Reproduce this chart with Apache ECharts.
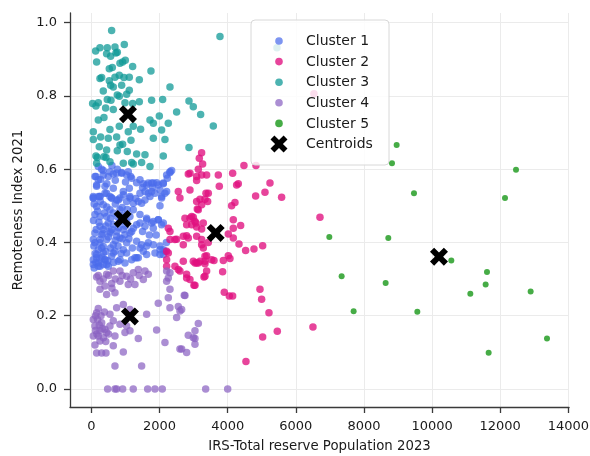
<!DOCTYPE html>
<html><head><meta charset="utf-8">
<script src="https://cdn.jsdelivr.net/npm/echarts@6/dist/echarts.min.js"></script>
<style>html,body{margin:0;padding:0;background:#fff}#c{width:590px;height:456px}</style>
</head><body><div id="c"></div>
<script>
const seriesNames = ['Cluster 1','Cluster 2','Cluster 3','Cluster 4','Cluster 5','Centroids'];
const xTicks = [0,2000,4000,6000,8000,10000,12000,14000];
const yTicks = [0,0.2,0.4,0.6,0.8,1.0];
const xTitle = 'IRS-Total reserve Population 2023';
const yTitle = 'Remoteness Index 2021';

const cluster1 = [
[201,0.607],[347,0.596],[132,0.580],[269,0.572],[494,0.580],[641,0.587],[758,0.600],[886,0.591],[1033,0.584],[1150,0.580],
[1326,0.563],[1522,0.560],[1620,0.557],[1766,0.562],[1913,0.563],[2109,0.560],[2227,0.575],[2305,0.591],[2354,0.596],[2011,0.543],
[2158,0.534],[1766,0.539],[1571,0.539],[1424,0.534],[1111,0.548],[935,0.539],[641,0.548],[396,0.553],[152,0.553],[54,0.525],
[250,0.525],[543,0.525],[837,0.521],[1130,0.521],[1718,0.525],[2060,0.525],
[54,0.521],[201,0.525],[396,0.534],[592,0.521],[739,0.516],[935,0.530],[1130,0.525],[1375,0.512],[1571,0.516],[1669,0.534],
[1865,0.534],[2060,0.521],[2011,0.500],[152,0.498],[347,0.503],[543,0.489],[250,0.471],[445,0.471],[641,0.480],[1228,0.489],
[1424,0.476],[1620,0.462],[1766,0.453],[1962,0.462],[2109,0.453],[1571,0.444],[1326,0.448],[1033,0.457],[641,0.448],[250,0.444],
[103,0.426],[347,0.435],[543,0.426],[739,0.430],[935,0.435],[1130,0.426],[837,0.412],[445,0.408],[54,0.408],[250,0.399],
[641,0.394],[1033,0.399],[1326,0.403],[1473,0.394],[1620,0.390],[1816,0.394],[2011,0.390],[2158,0.376],[2011,0.367],[1865,0.371],
[1620,0.367],[1375,0.358],[1179,0.353],[984,0.344],[788,0.349],[592,0.362],[347,0.371],[152,0.367],[54,0.353],[201,0.344],
[396,0.353],[54,0.340],[250,0.335],[494,0.335],[1277,0.358],[2109,0.380],[1522,0.376],
[299,0.421],[494,0.453],[837,0.489],[1130,0.471],[690,0.376],[935,0.380],[299,0.385],[103,0.476],[1228,0.439],[837,0.457],
[103,0.580],[200,0.571],[347,0.584],[543,0.593],[739,0.589],[886,0.589],[1081,0.593],[1179,0.575],[1424,0.571],[1669,0.562],
[1815,0.562],[1962,0.557],[2109,0.562],[2207,0.539],[2305,0.593],[2207,0.584],[152,0.557],[54,0.521],[249,0.525],[445,0.534],
[592,0.521],[788,0.516],[1032,0.512],[1228,0.507],[1473,0.507],[1620,0.466],[1815,0.457],[1962,0.462],[2060,0.448],[1815,0.439],
[1424,0.453],[1179,0.430],[983,0.421],[739,0.417],[543,0.430],[249,0.408],[103,0.399],[347,0.389],[152,0.358],[396,0.353],
[641,0.371],[1032,0.371],[1424,0.385],[1669,0.399],[2011,0.380],[2109,0.367],[200,0.335],[445,0.340],[837,0.353],[1326,0.358],
[80,0.505],[260,0.512],[450,0.497],[700,0.505],[900,0.495],[1050,0.490],[180,0.485],[380,0.480],[560,0.465],[760,0.470],
[960,0.475],[60,0.460],[220,0.455],[420,0.445],[600,0.435],[800,0.440],[1000,0.445],[140,0.435],[330,0.425],[500,0.415],
[700,0.405],[900,0.410],[1100,0.410],[70,0.390],[200,0.380],[420,0.375],[560,0.385],[780,0.390],[1200,0.385],[110,0.370],
[300,0.360],[480,0.350],[650,0.345],[870,0.370],[130,0.345],[350,0.340],[80,0.330],[250,0.355],[1500,0.430],[1700,0.420],
[1900,0.420],[2200,0.400],[1300,0.520],[1500,0.550],[1800,0.550],[1000,0.565],[700,0.570],[450,0.560],[300,0.600],[600,0.610]
];

const cluster2 = [
[3234,0.645],[3166,0.630],[3264,0.614],[3137,0.600],[3235,0.584],[2892,0.589],[3088,0.569],[3724,0.584],[3753,0.553],[4145,0.589],
[4311,0.560],[4477,0.610],[4830,0.610],[5241,0.562],[5094,0.537],[4820,0.527],[5583,0.523],[3362,0.534],[3186,0.518],[3411,0.512],
[3107,0.491],[4213,0.509],[4115,0.500],[2990,0.469],[3068,0.453],[3088,0.442],[3235,0.437],[4164,0.462],[4380,0.446],[4164,0.439],
[4017,0.423],[3235,0.394],[3284,0.385],[4331,0.396],[4526,0.378],[4771,0.382],[5026,0.391],[3381,0.364],[3186,0.349],[3039,0.344],
[3332,0.342],[3597,0.351],[3871,0.351],[4017,0.364],[4066,0.356],[3381,0.322],[3851,0.320],[3303,0.306],[3009,0.283],[2892,0.299],
[3900,0.264],[4047,0.254],[4145,0.254],[4947,0.272],[4996,0.245],[5211,0.208],[5456,0.158],[5026,0.142],[4536,0.075],[6503,0.169],
[6709,0.469],[6533,0.806],
[2843,0.587],[3088,0.580],[3381,0.584],[4262,0.557],[2549,0.539],[2892,0.543],[3430,0.534],[3088,0.512],[3332,0.518],[2745,0.466],
[2941,0.471],[3039,0.457],[2941,0.448],[3283,0.453],[2256,0.439],[2305,0.430],[2500,0.409],[2794,0.418],[2843,0.412],[2696,0.394],
[3430,0.400],[4164,0.412],[2207,0.376],[2207,0.353],[2451,0.335],[2696,0.349],[3088,0.344],[3332,0.362],[3528,0.353],[2549,0.326],
[2794,0.303],[3039,0.283],[3332,0.308],
[2598,0.521],[3137,0.489],[3235,0.503],[2892,0.466],[2794,0.448],[2451,0.408],[2305,0.408],[2696,0.417],[3088,0.417],[3235,0.408],
[2256,0.371],[2207,0.335],[2598,0.322],[2794,0.313],[2990,0.349],[3137,0.344],[3332,0.349]
];

const cluster3 = [
[592,0.978],[122,0.922],[250,0.931],[465,0.931],[690,0.933],[964,0.940],[719,0.917],[758,0.919],[445,0.915],[152,0.892],
[563,0.908],[837,0.889],[915,0.892],[993,0.897],[1209,0.880],[1747,0.868],[612,0.877],[524,0.874],[250,0.847],[299,0.850],
[524,0.841],[690,0.851],[817,0.856],[954,0.850],[1405,0.844],[1111,0.851],[563,0.829],[641,0.824],[886,0.829],[347,0.813],
[1111,0.815],[1033,0.804],[2305,0.824],[758,0.802],[465,0.790],[34,0.779],[132,0.772],[201,0.781],[416,0.767],[641,0.763],
[573,0.788],[817,0.799],[984,0.781],[1209,0.779],[1405,0.784],[1766,0.788],[2090,0.790],[2863,0.786],[2990,0.770],[2500,0.756],
[3205,0.749],[1992,0.745],[1718,0.734],[1816,0.725],[2256,0.725],[2060,0.707],[1443,0.709],[1228,0.717],[1081,0.702],[817,0.717],
[543,0.708],[367,0.741],[201,0.734],[54,0.702],[54,0.681],[269,0.688],[494,0.684],[739,0.688],[837,0.666],[915,0.668],
[1160,0.679],[1816,0.684],[2158,0.681],[230,0.661],[445,0.652],[758,0.650],[1052,0.648],[1326,0.641],[1571,0.639],[2109,0.636],
[2863,0.659],[132,0.636],[171,0.632],[367,0.634],[543,0.620],[935,0.616],[1179,0.618],[1228,0.614],[1473,0.618],[1718,0.607],
[152,0.616],[426,0.632],[3773,0.962],[3577,0.718],[5446,0.931]
];

const cluster4 = [
[152,0.306],[250,0.294],[445,0.313],[641,0.322],[837,0.322],[1033,0.308],[1228,0.317],[1375,0.326],[1571,0.322],[1669,0.313],
[1522,0.299],[1277,0.285],[1081,0.285],[837,0.294],[592,0.288],[396,0.281],[445,0.258],[690,0.263],[250,0.272],[2207,0.322],
[2256,0.303],[2305,0.272],[2256,0.249],[2745,0.255],[1962,0.234],[2305,0.222],[2549,0.225],[2598,0.213],[2500,0.195],[3137,0.179],
[3039,0.159],[2843,0.147],[3039,0.138],[3039,0.122],[2158,0.127],[1913,0.161],[2598,0.109],[2794,0.100],[935,0.231],[1130,0.217],
[739,0.222],[543,0.204],[152,0.208],[54,0.190],[103,0.172],[250,0.159],[396,0.163],[543,0.172],[641,0.186],[837,0.177],
[1033,0.172],[1130,0.159],[1375,0.138],[984,0.154],[690,0.145],[250,0.131],[103,0.120],[641,0.118],[935,0.101],[152,0.098],
[299,0.098],[426,0.098],[1473,0.063],[690,0.063],[1620,0.204],[2305,0.317],[2207,0.294],[2990,0.140],[2648,0.109],[2725,0.256],
[2648,0.217],[299,0.181],[445,0.154],[201,0.145],[54,0.145],
[120,0.160],[180,0.190],[230,0.175],[320,0.165],[160,0.150],[280,0.200],[350,0.140],[420,0.130],[500,0.150],[380,0.210],
[120,0.200],[200,0.220],[200,0.310],[350,0.300],[500,0.310],[700,0.300],[900,0.310],[600,0.275],[1150,0.300],[1400,0.310],
[475,0],[690,0],[740,0],[916,0],[1227,0],[1650,0],[1864,0],[2079,0],[3353,0],[3999,0]
];

const cluster5 = [
[8960,0.666],[8823,0.616],[9469,0.534],[12464,0.598],[12141,0.521],[8715,0.412],[10565,0.351],[11612,0.319],[11573,0.285],
[11123,0.260],[12894,0.266],[8637,0.289],[7345,0.308],[7697,0.212],[9567,0.211],[13374,0.138],[11661,0.099],[6983,0.415]
];

const centroids = [[916,0.464],[3647,0.426],[1072,0.750],[1130,0.198],[10203,0.361]];

const FONT = 'DejaVu Sans';
const TXT = '#1a1a1a';
const AX = '#3a3a3a';
const X_PTS = [[23,0],[50,27],[77,0],[100,23],[73,50],[100,77],[77,100],[50,73],[23,100],[0,77],[27,50],[0,23]];
const X_PATH = 'path://M' + X_PTS.map(p => p[0] + ',' + p[1]).join(' L') + ' Z';
const colors = ['#4b6ceb','#e0107f','#109a97','#8a62c2','#2ca02c'];
const opac = [0.72,0.78,0.75,0.72,0.88];
const sizes = [7.5,7.5,7.5,7.5,6];
const clusters = [cluster1, cluster2, cluster3, cluster4, cluster5];

const chart = echarts.init(document.getElementById('c'), null, {renderer: 'canvas'});

const series = clusters.map((d, i) => ({
  name: seriesNames[i], type: 'scatter', data: d, symbol: 'circle', symbolSize: sizes[i],
  itemStyle: {color: colors[i], opacity: opac[i]}, z: 2, silent: true
}));
series.push({
  name: seriesNames[5], type: 'scatter', data: centroids, symbol: X_PATH, symbolSize: 18,
  itemStyle: {color: '#000', opacity: 1}, z: 2, silent: true
});

// legend box drawn as graphic elements (real text)
const LG = {x: 251, y: 20, w: 138, h: 145, mx: 279, tx: 306, y0: 41, dy: 20.6};
const legendEls = [{
  type: 'rect', z: 3, silent: true,
  shape: {x: LG.x, y: LG.y, width: LG.w, height: LG.h, r: 4},
  style: {fill: 'rgba(255,255,255,0.82)', stroke: '#d8d8d8', lineWidth: 1}
}];
seriesNames.forEach((n, i) => {
  const cy = LG.y0 + i * LG.dy;
  if (i < 5) {
    legendEls.push({type: 'circle', z: 4, silent: true, shape: {cx: LG.mx, cy: cy, r: 3.8},
      style: {fill: colors[i], opacity: opac[i]}});
  } else {
    const s = 17;
    legendEls.push({type: 'polygon', z: 4, silent: true,
      shape: {points: X_PTS.map(p => [LG.mx - s / 2 + p[0] * s / 100, cy - s / 2 + p[1] * s / 100])},
      style: {fill: '#000'}});
  }
  legendEls.push({type: 'text', z: 4, silent: true, x: LG.tx, y: cy + 0.5,
    style: {text: n, fill: TXT, fontSize: 14, fontFamily: FONT, font: '14px "DejaVu Sans"',
      align: 'left', verticalAlign: 'middle', textAlign: 'left', textVerticalAlign: 'middle'}});
});

const axisCommon = {
  type: 'value',
  axisLine: {show: true, onZero: false, lineStyle: {color: AX, width: 1.3}},
  splitLine: {show: true, lineStyle: {color: '#ebebeb', width: 1}},
  nameLocation: 'middle',
  nameTextStyle: {fontSize: 13.3, color: TXT, fontFamily: FONT}
};

chart.setOption({
  animation: false,
  backgroundColor: '#fff',
  grid: {left: 70, right: 21, top: 13, bottom: 49, containLabel: false, outerBoundsMode: 'none'},
  xAxis: Object.assign({}, axisCommon, {
    min: -630, max: 14020, name: xTitle, nameGap: 33,
    axisTick: {show: true, length: 6, inside: false, customValues: xTicks, lineStyle: {color: AX, width: 1.3}},
    axisLabel: {customValues: xTicks, margin: 13, fontSize: 13, color: TXT, fontFamily: FONT,
      formatter: v => String(Math.round(v))}
  }),
  yAxis: Object.assign({}, axisCommon, {
    min: -0.049, max: 1.026, name: yTitle, nameGap: 44,
    axisTick: {show: true, length: 6, inside: false, customValues: yTicks, lineStyle: {color: AX, width: 1.3}},
    axisLabel: {customValues: yTicks, margin: 13, fontSize: 13, color: TXT, fontFamily: FONT,
      formatter: v => Number(v).toFixed(1)}
  }),
  graphic: legendEls,
  series: series
});
</script></body></html>
